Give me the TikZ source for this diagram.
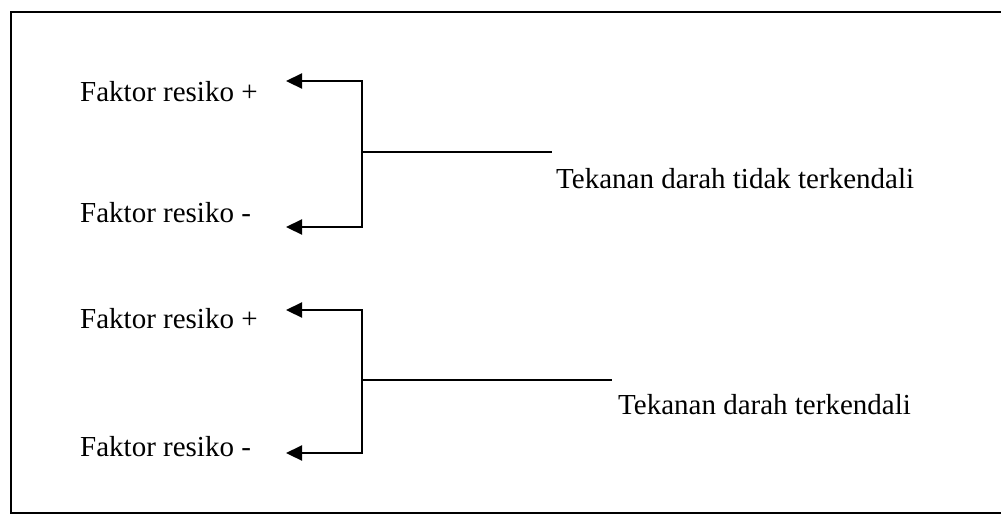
\documentclass[tikz,border=0pt]{standalone}
\usepackage{fontspec}
\setmainfont{Liberation Serif}
\usetikzlibrary{arrows.meta}
\begin{document}
\begin{tikzpicture}[x=1pt,y=-1pt,
  lbl/.style={anchor=base west,inner sep=0pt,font=\fontsize{29}{34}\selectfont},
  conn/.style={line width=2.2pt},
  arr/.style={conn,-{Triangle[length=16pt,width=15pt]}},
  frame/.style={line width=2.5pt}]
\useasboundingbox (0,0) rectangle (1001,515);
\begin{scope}
\clip (0,0) rectangle (1001,515);
\draw[frame] (1010,12) -- (11,12) -- (11,513) -- (1010,513);
\end{scope}
% group 1
\node[lbl] (f1p) at (80,101) {Faktor resiko +};
\node[lbl] (f1m) at (80,222) {Faktor resiko -};
\node[lbl] (t1) at (556,188) {Tekanan darah tidak terkendali};
\coordinate (a1p) at (286,81);
\coordinate (a1m) at (286,227);
\coordinate (j1) at (362,152);
\coordinate (e1) at (552,152);
\draw[arr] (j1) |- (a1p);
\draw[arr] (j1) |- (a1m);
\draw[conn] (j1) -- (e1);
% group 2
\node[lbl] (f2p) at (80,328) {Faktor resiko +};
\node[lbl] (f2m) at (80,456) {Faktor resiko -};
\node[lbl] (t2) at (618,414) {Tekanan darah terkendali};
\coordinate (a2p) at (286,310);
\coordinate (a2m) at (286,453);
\coordinate (j2) at (362,380);
\coordinate (e2) at (612,380);
\draw[arr] (j2) |- (a2p);
\draw[arr] (j2) |- (a2m);
\draw[conn] (j2) -- (e2);
\end{tikzpicture}
\end{document}
